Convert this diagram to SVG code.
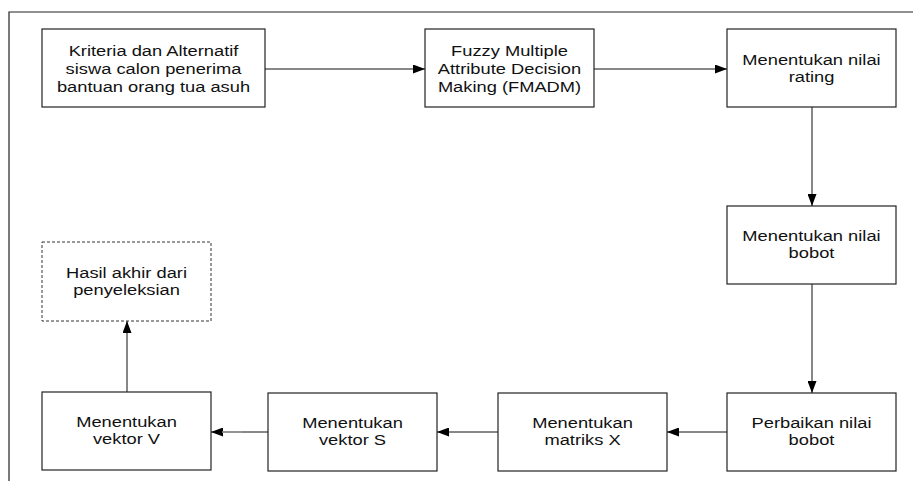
<svg xmlns="http://www.w3.org/2000/svg" width="913" height="481" viewBox="0 0 913 481">
<style>
.box{fill:#fff;stroke:#222;stroke-width:1.2}
.dash{fill:#fff;stroke:#333;stroke-width:1;stroke-dasharray:3,2}
.t{font-family:"Liberation Sans",Arial,sans-serif;font-size:15px;fill:#111;text-anchor:middle}
.ln{stroke:#111;stroke-width:1;fill:none;marker-end:url(#ah)}
</style>
<defs>
<marker id="ah" markerUnits="userSpaceOnUse" markerWidth="12" markerHeight="9" refX="12" refY="4.5" orient="auto">
<path d="M0,0 L12,4.5 L0,9 z" fill="#000"/>
</marker>
</defs>
<rect width="913" height="481" fill="#fff"/>
<path d="M9,481 V12 H913" fill="none" stroke="#222" stroke-width="1.2"/>
<g id="connectors">
<line class="ln" x1="265" y1="69" x2="425" y2="69"/>
<line class="ln" x1="594" y1="69" x2="727" y2="69"/>
<line class="ln" x1="812" y1="107" x2="812" y2="206"/>
<line class="ln" x1="812" y1="284" x2="812" y2="393"/>
<line class="ln" x1="727" y1="432" x2="667" y2="432"/>
<line class="ln" x1="498" y1="432" x2="437" y2="432"/>
<line class="ln" x1="268" y1="432" x2="211" y2="432"/>
<line x1="222" y1="432" x2="242" y2="432" stroke="#999" stroke-width="1.5"/>
<line class="ln" x1="127" y1="392" x2="127" y2="321"/>
</g>
<g id="n1">
<rect class="box" x="42" y="29" width="223" height="78"/>
<g transform="translate(153.5,0) scale(1.22,1)">
<text class="t" x="0" y="56">Kriteria dan Alternatif</text>
<text class="t" x="0" y="74">siswa calon penerima</text>
<text class="t" x="0" y="92">bantuan orang tua asuh</text>
</g>
</g>
<g id="n2">
<rect class="box" x="425" y="29" width="169" height="78"/>
<g transform="translate(509.5,0) scale(1.22,1)">
<text class="t" x="0" y="56">Fuzzy Multiple</text>
<text class="t" x="0" y="74">Attribute Decision</text>
<text class="t" x="0" y="92">Making (FMADM)</text>
</g>
</g>
<g id="n3">
<rect class="box" x="727" y="29" width="169" height="78"/>
<g transform="translate(811.5,0) scale(1.22,1)">
<text class="t" x="0" y="65">Menentukan nilai</text>
<text class="t" x="0" y="82">rating</text>
</g>
</g>
<g id="n4">
<rect class="box" x="727" y="206" width="169" height="78"/>
<g transform="translate(811.5,0) scale(1.22,1)">
<text class="t" x="0" y="241">Menentukan nilai</text>
<text class="t" x="0" y="258">bobot</text>
</g>
</g>
<g id="n5">
<rect class="box" x="727" y="393" width="169" height="78"/>
<g transform="translate(811.5,0) scale(1.22,1)">
<text class="t" x="0" y="428">Perbaikan nilai</text>
<text class="t" x="0" y="445.5">bobot</text>
</g>
</g>
<g id="n6">
<rect class="box" x="498" y="393" width="169" height="78"/>
<g transform="translate(582.5,0) scale(1.22,1)">
<text class="t" x="0" y="428">Menentukan</text>
<text class="t" x="0" y="445.5">matriks X</text>
</g>
</g>
<g id="n7">
<rect class="box" x="268" y="393" width="169" height="78"/>
<g transform="translate(352.5,0) scale(1.22,1)">
<text class="t" x="0" y="428">Menentukan</text>
<text class="t" x="0" y="445.5">vektor S</text>
</g>
</g>
<g id="n8">
<rect class="box" x="42" y="392" width="169" height="78"/>
<g transform="translate(126.5,0) scale(1.22,1)">
<text class="t" x="0" y="427">Menentukan</text>
<text class="t" x="0" y="444.5">vektor V</text>
</g>
</g>
<g id="n9">
<rect class="dash" x="42" y="242" width="169" height="79"/>
<g transform="translate(126.5,0) scale(1.22,1)">
<text class="t" x="0" y="278">Hasil akhir dari</text>
<text class="t" x="0" y="295">penyeleksian</text>
</g>
</g>
</svg>
